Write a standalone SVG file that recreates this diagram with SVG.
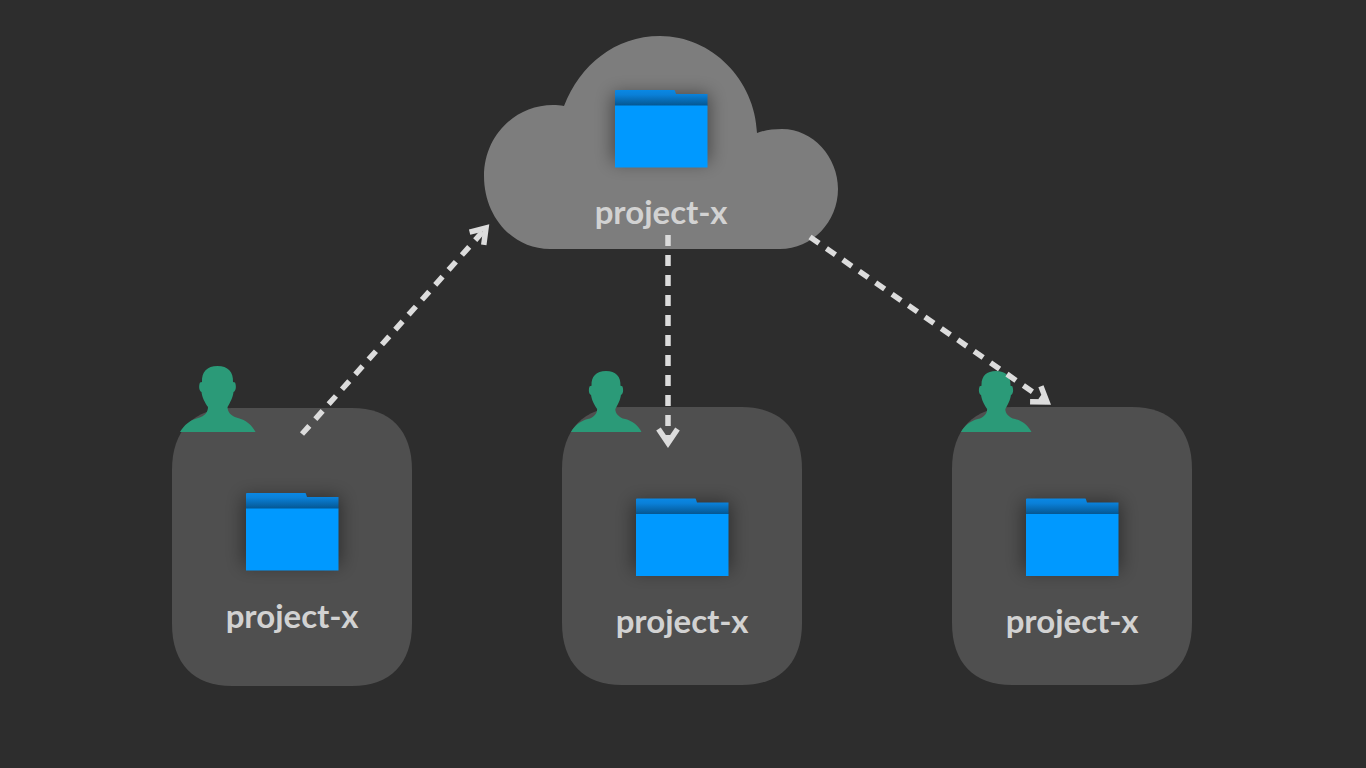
<svg xmlns="http://www.w3.org/2000/svg" xmlns:xlink="http://www.w3.org/1999/xlink" width="1366" height="768" viewBox="0 0 1366 768">
<style>
.card{fill:#4f4f4f}
.label{font-family:"Lato","Liberation Sans",sans-serif;font-weight:700;font-size:33px;fill:#d2d2d2;text-anchor:middle}
.link{fill:none;stroke:#dcdcdc;stroke-width:5.500;stroke-dasharray:11 9;marker-end:url(#arrow)}
.user{fill:#2b9a78}
</style>
<defs>
<linearGradient id="back" x1="0" y1="0" x2="0" y2="1">
<stop offset="0" stop-color="#0a88e4"/><stop offset="0.3" stop-color="#0a80d8"/><stop offset="1" stop-color="#04558f"/>
</linearGradient>
<filter id="soft" x="-50%" y="-50%" width="200%" height="200%"><feGaussianBlur stdDeviation="9"/></filter>
<marker id="arrow" markerUnits="userSpaceOnUse" markerWidth="30" markerHeight="30" refX="20" refY="14" orient="auto" viewBox="0 0 30 30">
<path d="M6 4.500 L20 14 L6 23.500" fill="none" stroke="#dcdcdc" stroke-width="5.500"/>
</marker>
<g id="folder">
<rect x="613" y="94" width="96" height="68" fill="#000" opacity="0.45" filter="url(#soft)"/>
<path d="M615 91 Q615 90 616 90 L674 90 Q675 90 675 91 L676 94 L707.500 94 L707.500 106 L615 106 Z" fill="url(#back)"/>
<rect x="615" y="105.500" width="92.500" height="62" fill="#0099ff"/>
</g>
<path id="person" d="M180 432 C184 425 190 420 198 418 C205 416 208 412 208 407 C205 403 202 397 201.500 392 C199 391 198.500 386 200 382.500 L202 382 C201.500 372 207 366 217.500 366 C228 366 233.500 372 233 382 L235 382.500 C236.500 386 236 391 233.500 392 C233 397 230 403 227.500 407 C227.500 412 231 416 238 418 C246 420 252 425 255.500 432 Z"/>
<path id="cardshape" d="M232 408 L352 408 C390 408 412 430 412 470 L412 624 C412 664 390 686 352 686 L232 686 C194 686 172 664 172 624 L172 470 C172 430 194 408 232 408 Z"/>
</defs>
<rect id="background" width="1366" height="768" fill="#2d2d2d"/>
<g id="cloud">
<path d="M550 249 C512 249 484 216 484 176 C484 136 515 105 553 105 C557 105 560 105 564 106 C580 65 615 36 660 36 C712 36 755 80 757 133 C765 130 773 129 782 129 C813 129 838 157 838 189 C838 222 812 249 780 249 Z" fill="#7d7d7d"/>
<use xlink:href="#folder" href="#folder"/>
<text class="label" x="661" y="224">project-x</text>
</g>
<g id="client-1">
<use class="card" xlink:href="#cardshape" href="#cardshape"/>
<use class="user" xlink:href="#person" href="#person"/>
<use xlink:href="#folder" href="#folder" transform="translate(-369 403)"/>
<text class="label" x="292" y="628">project-x</text>
</g>
<g id="client-2">
<use class="card" xlink:href="#cardshape" href="#cardshape" transform="translate(390 -1)"/>
<use class="user" xlink:href="#person" href="#person" transform="translate(571 371) scale(0.9333 0.9242) translate(-180 -366)"/>
<use xlink:href="#folder" href="#folder" transform="translate(21 408.500)"/>
<text class="label" x="682" y="633">project-x</text>
</g>
<g id="client-3">
<use class="card" xlink:href="#cardshape" href="#cardshape" transform="translate(780 -1)"/>
<use class="user" xlink:href="#person" href="#person" transform="translate(961 371) scale(0.9333 0.9242) translate(-180 -366)"/>
<use xlink:href="#folder" href="#folder" transform="translate(411 408.500)"/>
<text class="label" x="1072" y="633">project-x</text>
</g>
<g id="connectors">
<path class="link" d="M302 434 L486 228"/>
<path class="link" d="M668 235 L668 443"/>
<path class="link" d="M810 237 L1047 402"/>
</g>
</svg>
